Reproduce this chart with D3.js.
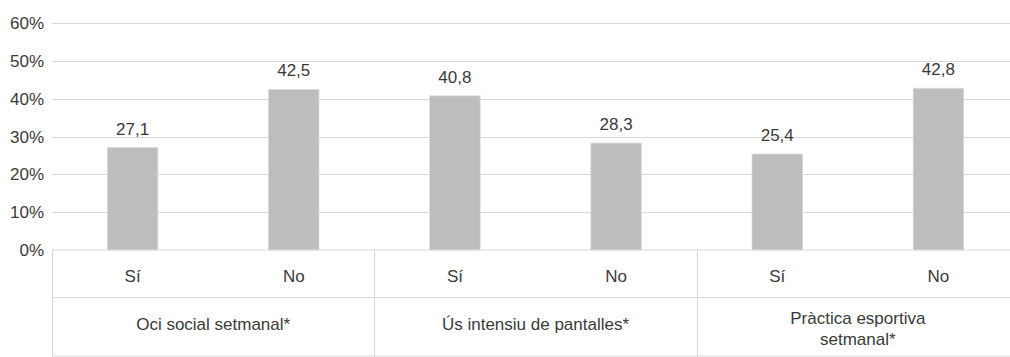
<!DOCTYPE html>
<html>
<head>
<meta charset="utf-8">
<script src="https://cdn.jsdelivr.net/npm/d3@7"></script>
<style>
  html, body { margin: 0; padding: 0; background: #fff; }
  svg { display: block; }
  text { font-family: "Liberation Sans", Arial, Helvetica, sans-serif; fill: #3a3a3a; }
</style>
</head>
<body>
<svg id="chart" width="1010" height="357"></svg>
<script>
// ---- data ----
const groups = ["Oci social setmanal*", "Ús intensiu de pantalles*", "Pràctica esportiva setmanal*"];
const groupLines = [["Oci social setmanal*"], ["Ús intensiu de pantalles*"], ["Pràctica esportiva", "setmanal*"]];
const answers = ["Sí", "No"];
const values = [27.1, 42.5, 40.8, 28.3, 25.4, 42.8];
const yTicks = [0, 10, 20, 30, 40, 50, 60];

// ---- layout ----
const W = 1010, H = 357;
const left = 52, right = 1019;
const y0 = 250, yTop = 23.3;
const row1Bottom = 297.5, row2Bottom = 356;
const gridColor = "#d9d9d9";

const svg = d3.select("#chart");

const items = [];
groups.forEach((g, gi) => answers.forEach((a, ai) => items.push({ key: gi + "-" + ai, group: gi, answer: a, value: values[gi * 2 + ai] })));

const x = d3.scaleBand()
  .domain(items.map(d => d.key))
  .range([left, right])
  .paddingInner(0.687)
  .paddingOuter(0.3435);
const xGroup = d3.scaleBand().domain(groups).range([left, right]).padding(0);

const y = d3.scaleLinear().domain([0, 60]).range([y0, yTop]);

// gridlines
svg.append("g").selectAll("line")
  .data(yTicks.filter(t => t > 0))
  .join("line")
  .attr("x1", left).attr("x2", right)
  .attr("y1", d => Math.round(y(d)) + 0.5).attr("y2", d => Math.round(y(d)) + 0.5)
  .attr("stroke", gridColor).attr("stroke-width", 1.2);

// y axis labels
const fmtPct = d => d + "%";
svg.append("g").selectAll("text")
  .data(yTicks)
  .join("text")
  .attr("x", 44)
  .attr("y", d => y(d))
  .attr("dy", "0.35em")
  .attr("text-anchor", "end")
  .attr("font-size", 17)
  .text(fmtPct);

// bars
svg.append("g").selectAll("rect")
  .data(items)
  .join("rect")
  .attr("x", d => x(d.key))
  .attr("width", x.bandwidth())
  .attr("y", d => y(d.value))
  .attr("height", d => y(0) - y(d.value))
  .attr("fill", "#bdbdbb")
  .attr("stroke", "#d8d8d8")
  .attr("stroke-width", 0.8);

// value labels
const fmtVal = d => d3.format(".1f")(d).replace(".", ",");
svg.append("g").selectAll("text")
  .data(items)
  .join("text")
  .attr("x", d => x(d.key) + x.bandwidth() / 2)
  .attr("y", d => y(d.value) - 13)
  .attr("text-anchor", "middle")
  .attr("font-size", 17)
  .text(d => fmtVal(d.value));

// table lines
const tbl = svg.append("g").attr("stroke", gridColor).attr("stroke-width", 1.2);
[y0, row1Bottom, row2Bottom].forEach(yy => {
  tbl.append("line").attr("x1", left).attr("x2", right).attr("y1", yy).attr("y2", yy);
});
const vx = groups.map(g => xGroup(g)).concat([right]);
tbl.selectAll("line.v")
  .data(vx)
  .join("line")
  .attr("class", "v")
  .attr("x1", d => Math.round(d) + 0.5).attr("x2", d => Math.round(d) + 0.5)
  .attr("y1", y0).attr("y2", row2Bottom);

// answer labels
svg.append("g").selectAll("text")
  .data(items)
  .join("text")
  .attr("x", d => x(d.key) + x.bandwidth() / 2)
  .attr("y", (y0 + row1Bottom) / 2 + 2)
  .attr("dy", "0.35em")
  .attr("text-anchor", "middle")
  .attr("font-size", 17)
  .text(d => d.answer);

// group labels
const gl = svg.append("g").selectAll("text")
  .data(groups)
  .join("text")
  .attr("text-anchor", "middle")
  .attr("font-size", 17);
gl.each(function(g, i) {
  const lines = groupLines[i];
  const cx = xGroup(g) + xGroup.bandwidth() / 2;
  const t = d3.select(this);
  const lh = 21;
  // baselines: single-line centred at row, two-line block slightly lower
  const base = lines.length === 1 ? (row1Bottom + row2Bottom) / 2 + 3.5 : (row1Bottom + row2Bottom) / 2 - 3;
  lines.forEach((ln, li) => {
    t.append("tspan")
      .attr("x", cx)
      .attr("y", base + li * lh)
      .text(ln);
  });
});
</script>
</body>
</html>
